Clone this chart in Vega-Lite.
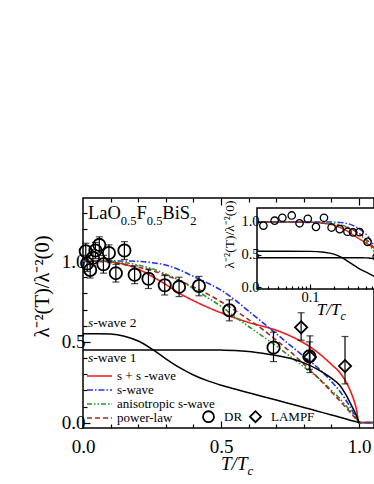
{
  "$schema": "https://vega.github.io/schema/vega-lite/v6.json",
  "autosize": {"type": "none"},
  "width": 291,
  "height": 230,
  "padding": {"left": 83, "top": 198, "right": 0, "bottom": 56},
  "background": "white",
  "config": {
    "font": "Liberation Serif",
    "view": {"stroke": "black", "strokeWidth": 1.5},
    "axis": {"labelFont": "Liberation Serif", "titleFont": "Liberation Serif", "tickColor": "black", "labelColor": "black", "titleColor": "black", "domainColor": "black", "tickWidth": 1.2, "grid": false, "titleFontWeight": "normal"},
    "legend": {"labelFont": "Liberation Serif", "labelColor": "black"},
    "text": {"font": "Liberation Serif", "color": "black"}
  },
  "datasets": {
    "curves": [
      {"model": "s + s -wave", "t": 0, "v": 1.0}, {"model": "s + s -wave", "t": 0.02, "v": 1.0}, {"model": "s + s -wave", "t": 0.05, "v": 1.0}, {"model": "s + s -wave", "t": 0.1, "v": 0.995}, {"model": "s + s -wave", "t": 0.15, "v": 0.98}, {"model": "s + s -wave", "t": 0.2, "v": 0.95}, {"model": "s + s -wave", "t": 0.25, "v": 0.905}, {"model": "s + s -wave", "t": 0.3, "v": 0.855}, {"model": "s + s -wave", "t": 0.35, "v": 0.8}, {"model": "s + s -wave", "t": 0.4, "v": 0.755}, {"model": "s + s -wave", "t": 0.45, "v": 0.715}, {"model": "s + s -wave", "t": 0.5, "v": 0.68}, {"model": "s + s -wave", "t": 0.55, "v": 0.648}, {"model": "s + s -wave", "t": 0.6, "v": 0.62}, {"model": "s + s -wave", "t": 0.65, "v": 0.597}, {"model": "s + s -wave", "t": 0.7, "v": 0.572}, {"model": "s + s -wave", "t": 0.75, "v": 0.537}, {"model": "s + s -wave", "t": 0.8, "v": 0.493}, {"model": "s + s -wave", "t": 0.85, "v": 0.435}, {"model": "s + s -wave", "t": 0.9, "v": 0.36}, {"model": "s + s -wave", "t": 0.93, "v": 0.31}, {"model": "s + s -wave", "t": 0.95, "v": 0.26}, {"model": "s + s -wave", "t": 0.97, "v": 0.19}, {"model": "s + s -wave", "t": 0.99, "v": 0.085}, {"model": "s + s -wave", "t": 1.0, "v": 0}, {"model": "s + s -wave", "t": 1.05, "v": 0},
      {"model": "s-wave", "t": 0, "v": 1.0}, {"model": "s-wave", "t": 0.02, "v": 1.0}, {"model": "s-wave", "t": 0.05, "v": 1.0}, {"model": "s-wave", "t": 0.1, "v": 1.0}, {"model": "s-wave", "t": 0.15, "v": 1.0}, {"model": "s-wave", "t": 0.2, "v": 0.998}, {"model": "s-wave", "t": 0.25, "v": 0.99}, {"model": "s-wave", "t": 0.3, "v": 0.975}, {"model": "s-wave", "t": 0.35, "v": 0.945}, {"model": "s-wave", "t": 0.4, "v": 0.905}, {"model": "s-wave", "t": 0.45, "v": 0.865}, {"model": "s-wave", "t": 0.5, "v": 0.82}, {"model": "s-wave", "t": 0.55, "v": 0.76}, {"model": "s-wave", "t": 0.6, "v": 0.69}, {"model": "s-wave", "t": 0.65, "v": 0.62}, {"model": "s-wave", "t": 0.7, "v": 0.55}, {"model": "s-wave", "t": 0.75, "v": 0.48}, {"model": "s-wave", "t": 0.8, "v": 0.41}, {"model": "s-wave", "t": 0.85, "v": 0.34}, {"model": "s-wave", "t": 0.9, "v": 0.255}, {"model": "s-wave", "t": 0.93, "v": 0.195}, {"model": "s-wave", "t": 0.95, "v": 0.145}, {"model": "s-wave", "t": 0.97, "v": 0.09}, {"model": "s-wave", "t": 0.99, "v": 0.03}, {"model": "s-wave", "t": 1.0, "v": 0}, {"model": "s-wave", "t": 1.05, "v": 0},
      {"model": "anisotropic s-wave", "t": 0, "v": 1.0}, {"model": "anisotropic s-wave", "t": 0.02, "v": 1.0}, {"model": "anisotropic s-wave", "t": 0.05, "v": 1.0}, {"model": "anisotropic s-wave", "t": 0.1, "v": 0.998}, {"model": "anisotropic s-wave", "t": 0.15, "v": 0.99}, {"model": "anisotropic s-wave", "t": 0.2, "v": 0.975}, {"model": "anisotropic s-wave", "t": 0.25, "v": 0.952}, {"model": "anisotropic s-wave", "t": 0.3, "v": 0.92}, {"model": "anisotropic s-wave", "t": 0.35, "v": 0.88}, {"model": "anisotropic s-wave", "t": 0.4, "v": 0.83}, {"model": "anisotropic s-wave", "t": 0.45, "v": 0.775}, {"model": "anisotropic s-wave", "t": 0.5, "v": 0.72}, {"model": "anisotropic s-wave", "t": 0.55, "v": 0.655}, {"model": "anisotropic s-wave", "t": 0.6, "v": 0.595}, {"model": "anisotropic s-wave", "t": 0.65, "v": 0.535}, {"model": "anisotropic s-wave", "t": 0.7, "v": 0.475}, {"model": "anisotropic s-wave", "t": 0.75, "v": 0.41}, {"model": "anisotropic s-wave", "t": 0.8, "v": 0.345}, {"model": "anisotropic s-wave", "t": 0.85, "v": 0.28}, {"model": "anisotropic s-wave", "t": 0.9, "v": 0.2}, {"model": "anisotropic s-wave", "t": 0.93, "v": 0.15}, {"model": "anisotropic s-wave", "t": 0.95, "v": 0.11}, {"model": "anisotropic s-wave", "t": 0.97, "v": 0.07}, {"model": "anisotropic s-wave", "t": 0.99, "v": 0.025}, {"model": "anisotropic s-wave", "t": 1.0, "v": 0}, {"model": "anisotropic s-wave", "t": 1.05, "v": 0},
      {"model": "power-law", "t": 0, "v": 1.0}, {"model": "power-law", "t": 0.02, "v": 1.0}, {"model": "power-law", "t": 0.05, "v": 0.998}, {"model": "power-law", "t": 0.1, "v": 0.99}, {"model": "power-law", "t": 0.15, "v": 0.978}, {"model": "power-law", "t": 0.2, "v": 0.962}, {"model": "power-law", "t": 0.25, "v": 0.94}, {"model": "power-law", "t": 0.3, "v": 0.912}, {"model": "power-law", "t": 0.35, "v": 0.878}, {"model": "power-law", "t": 0.4, "v": 0.84}, {"model": "power-law", "t": 0.45, "v": 0.797}, {"model": "power-law", "t": 0.5, "v": 0.748}, {"model": "power-law", "t": 0.55, "v": 0.695}, {"model": "power-law", "t": 0.6, "v": 0.638}, {"model": "power-law", "t": 0.65, "v": 0.578}, {"model": "power-law", "t": 0.7, "v": 0.51}, {"model": "power-law", "t": 0.75, "v": 0.44}, {"model": "power-law", "t": 0.8, "v": 0.362}, {"model": "power-law", "t": 0.85, "v": 0.28}, {"model": "power-law", "t": 0.9, "v": 0.19}, {"model": "power-law", "t": 0.93, "v": 0.135}, {"model": "power-law", "t": 0.95, "v": 0.098}, {"model": "power-law", "t": 0.97, "v": 0.06}, {"model": "power-law", "t": 0.99, "v": 0.02}, {"model": "power-law", "t": 1.0, "v": 0}, {"model": "power-law", "t": 1.05, "v": 0},
      {"model": "s-wave 1", "t": 0, "v": 0.45}, {"model": "s-wave 1", "t": 0.02, "v": 0.45}, {"model": "s-wave 1", "t": 0.05, "v": 0.45}, {"model": "s-wave 1", "t": 0.1, "v": 0.45}, {"model": "s-wave 1", "t": 0.15, "v": 0.45}, {"model": "s-wave 1", "t": 0.2, "v": 0.45}, {"model": "s-wave 1", "t": 0.25, "v": 0.45}, {"model": "s-wave 1", "t": 0.3, "v": 0.45}, {"model": "s-wave 1", "t": 0.35, "v": 0.45}, {"model": "s-wave 1", "t": 0.4, "v": 0.45}, {"model": "s-wave 1", "t": 0.45, "v": 0.45}, {"model": "s-wave 1", "t": 0.5, "v": 0.449}, {"model": "s-wave 1", "t": 0.55, "v": 0.447}, {"model": "s-wave 1", "t": 0.6, "v": 0.441}, {"model": "s-wave 1", "t": 0.65, "v": 0.43}, {"model": "s-wave 1", "t": 0.7, "v": 0.416}, {"model": "s-wave 1", "t": 0.75, "v": 0.398}, {"model": "s-wave 1", "t": 0.8, "v": 0.37}, {"model": "s-wave 1", "t": 0.85, "v": 0.33}, {"model": "s-wave 1", "t": 0.9, "v": 0.275}, {"model": "s-wave 1", "t": 0.93, "v": 0.232}, {"model": "s-wave 1", "t": 0.95, "v": 0.18}, {"model": "s-wave 1", "t": 0.97, "v": 0.115}, {"model": "s-wave 1", "t": 0.99, "v": 0.045}, {"model": "s-wave 1", "t": 1.0, "v": 0},
      {"model": "s-wave 2", "t": 0, "v": 0.55}, {"model": "s-wave 2", "t": 0.02, "v": 0.55}, {"model": "s-wave 2", "t": 0.05, "v": 0.55}, {"model": "s-wave 2", "t": 0.1, "v": 0.548}, {"model": "s-wave 2", "t": 0.15, "v": 0.535}, {"model": "s-wave 2", "t": 0.2, "v": 0.505}, {"model": "s-wave 2", "t": 0.25, "v": 0.455}, {"model": "s-wave 2", "t": 0.3, "v": 0.395}, {"model": "s-wave 2", "t": 0.35, "v": 0.34}, {"model": "s-wave 2", "t": 0.4, "v": 0.295}, {"model": "s-wave 2", "t": 0.45, "v": 0.26}, {"model": "s-wave 2", "t": 0.5, "v": 0.232}, {"model": "s-wave 2", "t": 0.55, "v": 0.208}, {"model": "s-wave 2", "t": 0.6, "v": 0.185}, {"model": "s-wave 2", "t": 0.65, "v": 0.162}, {"model": "s-wave 2", "t": 0.7, "v": 0.14}, {"model": "s-wave 2", "t": 0.75, "v": 0.117}, {"model": "s-wave 2", "t": 0.8, "v": 0.094}, {"model": "s-wave 2", "t": 0.85, "v": 0.071}, {"model": "s-wave 2", "t": 0.9, "v": 0.048}, {"model": "s-wave 2", "t": 0.93, "v": 0.034}, {"model": "s-wave 2", "t": 0.95, "v": 0.024}, {"model": "s-wave 2", "t": 0.97, "v": 0.014}, {"model": "s-wave 2", "t": 0.99, "v": 0.005}, {"model": "s-wave 2", "t": 1.0, "v": 0}
    ],
    "points": [
      {"source": "DR", "t": 0.010, "v": 1.06, "lo": 1.01, "hi": 1.11},
      {"source": "DR", "t": 0.015, "v": 0.985, "lo": 0.935, "hi": 1.035},
      {"source": "DR", "t": 0.026, "v": 0.945, "lo": 0.895, "hi": 0.995},
      {"source": "DR", "t": 0.036, "v": 1.02, "lo": 0.97, "hi": 1.07},
      {"source": "DR", "t": 0.045, "v": 1.065, "lo": 1.015, "hi": 1.115},
      {"source": "DR", "t": 0.059, "v": 1.1, "lo": 1.05, "hi": 1.15},
      {"source": "DR", "t": 0.074, "v": 0.98, "lo": 0.925, "hi": 1.035},
      {"source": "DR", "t": 0.094, "v": 1.05, "lo": 1.0, "hi": 1.1},
      {"source": "DR", "t": 0.119, "v": 0.925, "lo": 0.87, "hi": 0.98},
      {"source": "DR", "t": 0.15, "v": 1.065, "lo": 1.01, "hi": 1.12},
      {"source": "DR", "t": 0.187, "v": 0.915, "lo": 0.86, "hi": 0.97},
      {"source": "DR", "t": 0.237, "v": 0.89, "lo": 0.83, "hi": 0.95},
      {"source": "DR", "t": 0.296, "v": 0.85, "lo": 0.79, "hi": 0.91},
      {"source": "DR", "t": 0.348, "v": 0.84, "lo": 0.78, "hi": 0.9},
      {"source": "DR", "t": 0.42, "v": 0.845, "lo": 0.785, "hi": 0.905},
      {"source": "DR", "t": 0.53, "v": 0.695, "lo": 0.63, "hi": 0.76},
      {"source": "DR", "t": 0.69, "v": 0.465, "lo": 0.378, "hi": 0.56},
      {"source": "DR", "t": 0.82, "v": 0.41, "lo": 0.33, "hi": 0.5},
      {"source": "LAMPF", "t": 0.79, "v": 0.59, "lo": 0.51, "hi": 0.68},
      {"source": "LAMPF", "t": 0.822, "v": 0.405, "lo": 0.31, "hi": 0.537},
      {"source": "LAMPF", "t": 0.949, "v": 0.35, "lo": 0.24, "hi": 0.533}
    ]
  },
  "layer": [
    {
      "data": {"name": "curves"},
      "transform": [{"filter": "datum.model != 's-wave 1' && datum.model != 's-wave 2'"}],
      "mark": {"type": "line", "strokeWidth": 1.6, "interpolate": "monotone", "clip": true},
      "encoding": {
        "x": {"field": "t", "type": "quantitative", "scale": {"domain": [0, 1.054], "nice": false, "zero": false},
          "axis": {"orient": "bottom", "values": [0, 0.1, 0.2, 0.3, 0.4, 0.5, 0.6, 0.7, 0.8, 0.9, 1.0], "labelExpr": "datum.value == 0 || datum.value == 0.5 || datum.value == 1 ? format(datum.value, '.1f') : ''", "tickSize": {"condition": {"test": "datum.value == 0 || datum.value == 0.5 || datum.value == 1", "value": -7}, "value": -4}, "labelFontSize": 19, "labelPadding": 16, "labelOverlap": false, "labelFlush": false, "title": null, "domain": false}},
        "y": {"field": "v", "type": "quantitative", "scale": {"domain": [-0.033, 1.39], "nice": false, "zero": false},
          "axis": {"orient": "left", "values": [0, 0.1, 0.2, 0.3, 0.4, 0.5, 0.6, 0.7, 0.8, 0.9, 1.0, 1.1, 1.2, 1.3], "labelExpr": "datum.value == 0 || datum.value == 0.5 || datum.value == 1 ? format(datum.value, '.1f') : ''", "tickSize": {"condition": {"test": "datum.value == 0 || datum.value == 0.5 || datum.value == 1", "value": -7}, "value": -4}, "labelFontSize": 19, "labelPadding": 5, "labelOverlap": false, "labelFlush": false, "domain": false, "title": "λ⁻²(T)/λ⁻²(0)", "titleFontSize": 20.5, "titleX": -41, "titleY": 88, "titleAlign": "center", "titleBaseline": "middle", "titleAngle": 270}},
        "color": {"field": "model", "type": "nominal", "scale": {"domain": ["s + s -wave", "s-wave", "anisotropic s-wave", "power-law"], "range": ["#ee1c1c", "#2233ee", "#229922", "#a02828"]},
          "legend": {"title": null, "orient": "none", "legendX": 3, "legendY": 171, "symbolType": "stroke", "symbolSize": 625, "symbolStrokeWidth": 1.6, "clipHeight": 14, "rowPadding": 0, "labelFontSize": 13, "labelOffset": 4, "padding": 0}},
        "strokeDash": {"field": "model", "type": "nominal", "scale": {"domain": ["s + s -wave", "s-wave", "anisotropic s-wave", "power-law"], "range": [[1, 0], [6, 2, 1.5, 2], [5, 2, 1.5, 2, 1.5, 2], [5, 3]]},
          "legend": {"title": null, "orient": "none", "legendX": 3, "legendY": 171, "symbolType": "stroke", "symbolSize": 625, "symbolStrokeWidth": 1.6, "clipHeight": 14, "rowPadding": 0, "labelFontSize": 13, "labelOffset": 4, "padding": 0}}
      }
    },
    {
      "data": {"name": "curves"},
      "transform": [{"filter": "datum.model == 's-wave 1' || datum.model == 's-wave 2'"}],
      "mark": {"type": "line", "color": "black", "strokeWidth": 1.5, "interpolate": "monotone", "clip": true},
      "encoding": {
        "x": {"field": "t", "type": "quantitative", "scale": {"domain": [0, 1.054], "nice": false, "zero": false}, "axis": null},
        "y": {"field": "v", "type": "quantitative", "scale": {"domain": [-0.033, 1.39], "nice": false, "zero": false}, "axis": null},
        "detail": {"field": "model"}
      }
    },
    {
      "data": {"name": "points"},
      "mark": {"type": "errorbar", "ticks": {"size": 7, "color": "black"}, "color": "black", "thickness": 1.2},
      "encoding": {
        "x": {"field": "t", "type": "quantitative", "scale": {"domain": [0, 1.054], "nice": false, "zero": false}, "axis": null},
        "y": {"field": "lo", "type": "quantitative", "scale": {"domain": [-0.033, 1.39], "nice": false, "zero": false}, "axis": null},
        "y2": {"field": "hi"}
      }
    },
    {
      "data": {"name": "points"},
      "mark": {"type": "point", "filled": false, "color": "black", "strokeWidth": 1.8, "size": 150, "opacity": 1},
      "encoding": {
        "x": {"field": "t", "type": "quantitative", "scale": {"domain": [0, 1.054], "nice": false, "zero": false},
          "axis": {"orient": "top", "values": [0.1, 0.2, 0.3, 0.4, 0.5, 0.6, 0.7, 0.8, 0.9, 1.0], "labels": false, "tickSize": {"condition": {"test": "datum.value == 0.5 || datum.value == 1", "value": -7}, "value": -4}, "domain": false, "title": null}},
        "y": {"field": "v", "type": "quantitative", "scale": {"domain": [-0.033, 1.39], "nice": false, "zero": false}, "axis": null},
        "shape": {"field": "source", "type": "nominal", "scale": {"domain": ["DR", "LAMPF"], "range": ["circle", "diamond"]},
          "legend": {"title": null, "orient": "none", "legendX": 119, "legendY": 212, "direction": "horizontal", "labelFontSize": 13, "symbolSize": 120, "symbolStrokeWidth": 1.8, "symbolStrokeColor": "black", "symbolFillColor": "transparent", "columnPadding": 3, "labelOffset": 9, "padding": 0}}
      }
    },
    {"data": {"values": [{}]}, "mark": {"type": "text", "text": "LaO", "align": "left", "baseline": "alphabetic", "fontSize": 18.5},
      "encoding": {"x": {"datum": 0.018, "type": "quantitative", "scale": {"domain": [0, 1.054], "nice": false, "zero": false}, "axis": null}, "y": {"datum": 1.258, "type": "quantitative", "scale": {"domain": [-0.033, 1.39], "nice": false, "zero": false}, "axis": null}}},
    {"data": {"values": [{}]}, "mark": {"type": "text", "text": "0.5", "align": "left", "baseline": "alphabetic", "fontSize": 12.5, "dx": 32.9, "dy": 6},
      "encoding": {"x": {"datum": 0.018, "type": "quantitative", "scale": {"domain": [0, 1.054], "nice": false, "zero": false}, "axis": null}, "y": {"datum": 1.258, "type": "quantitative", "scale": {"domain": [-0.033, 1.39], "nice": false, "zero": false}, "axis": null}}},
    {"data": {"values": [{}]}, "mark": {"type": "text", "text": "F", "align": "left", "baseline": "alphabetic", "fontSize": 18.5, "dx": 48.5},
      "encoding": {"x": {"datum": 0.018, "type": "quantitative", "scale": {"domain": [0, 1.054], "nice": false, "zero": false}, "axis": null}, "y": {"datum": 1.258, "type": "quantitative", "scale": {"domain": [-0.033, 1.39], "nice": false, "zero": false}, "axis": null}}},
    {"data": {"values": [{}]}, "mark": {"type": "text", "text": "0.5", "align": "left", "baseline": "alphabetic", "fontSize": 12.5, "dx": 58.8, "dy": 6},
      "encoding": {"x": {"datum": 0.018, "type": "quantitative", "scale": {"domain": [0, 1.054], "nice": false, "zero": false}, "axis": null}, "y": {"datum": 1.258, "type": "quantitative", "scale": {"domain": [-0.033, 1.39], "nice": false, "zero": false}, "axis": null}}},
    {"data": {"values": [{}]}, "mark": {"type": "text", "text": "BiS", "align": "left", "baseline": "alphabetic", "fontSize": 18.5, "dx": 74.4},
      "encoding": {"x": {"datum": 0.018, "type": "quantitative", "scale": {"domain": [0, 1.054], "nice": false, "zero": false}, "axis": null}, "y": {"datum": 1.258, "type": "quantitative", "scale": {"domain": [-0.033, 1.39], "nice": false, "zero": false}, "axis": null}}},
    {"data": {"values": [{}]}, "mark": {"type": "text", "text": "2", "align": "left", "baseline": "alphabetic", "fontSize": 12.5, "dx": 102.2, "dy": 6},
      "encoding": {"x": {"datum": 0.018, "type": "quantitative", "scale": {"domain": [0, 1.054], "nice": false, "zero": false}, "axis": null}, "y": {"datum": 1.258, "type": "quantitative", "scale": {"domain": [-0.033, 1.39], "nice": false, "zero": false}, "axis": null}}},
    {"data": {"values": [{}]}, "mark": {"type": "text", "text": "s", "align": "left", "baseline": "alphabetic", "fontSize": 13.5, "fontStyle": "italic"},
      "encoding": {"x": {"datum": 0.018, "type": "quantitative", "scale": {"domain": [0, 1.054], "nice": false, "zero": false}, "axis": null}, "y": {"datum": 0.592, "type": "quantitative", "scale": {"domain": [-0.033, 1.39], "nice": false, "zero": false}, "axis": null}}},
    {"data": {"values": [{}]}, "mark": {"type": "text", "text": "-wave 2", "align": "left", "baseline": "alphabetic", "fontSize": 13.5, "dx": 5.4},
      "encoding": {"x": {"datum": 0.018, "type": "quantitative", "scale": {"domain": [0, 1.054], "nice": false, "zero": false}, "axis": null}, "y": {"datum": 0.592, "type": "quantitative", "scale": {"domain": [-0.033, 1.39], "nice": false, "zero": false}, "axis": null}}},
    {"data": {"values": [{}]}, "mark": {"type": "text", "text": "s", "align": "left", "baseline": "alphabetic", "fontSize": 13.5, "fontStyle": "italic"},
      "encoding": {"x": {"datum": 0.018, "type": "quantitative", "scale": {"domain": [0, 1.054], "nice": false, "zero": false}, "axis": null}, "y": {"datum": 0.377, "type": "quantitative", "scale": {"domain": [-0.033, 1.39], "nice": false, "zero": false}, "axis": null}}},
    {"data": {"values": [{}]}, "mark": {"type": "text", "text": "-wave 1", "align": "left", "baseline": "alphabetic", "fontSize": 13.5, "dx": 5.4},
      "encoding": {"x": {"datum": 0.018, "type": "quantitative", "scale": {"domain": [0, 1.054], "nice": false, "zero": false}, "axis": null}, "y": {"datum": 0.377, "type": "quantitative", "scale": {"domain": [-0.033, 1.39], "nice": false, "zero": false}, "axis": null}}},
    {"data": {"values": [{}]}, "mark": {"type": "text", "text": "T/T", "align": "left", "baseline": "alphabetic", "fontSize": 19, "fontStyle": "italic"},
      "encoding": {"x": {"datum": 0.5, "type": "quantitative", "scale": {"domain": [0, 1.054], "nice": false, "zero": false}, "axis": null}, "y": {"datum": -0.29, "type": "quantitative", "scale": {"domain": [-0.033, 1.39], "nice": false, "zero": false}, "axis": null}}},
    {"data": {"values": [{}]}, "mark": {"type": "text", "text": "c", "align": "left", "baseline": "alphabetic", "fontSize": 13, "fontStyle": "italic", "dx": 26.5, "dy": 5},
      "encoding": {"x": {"datum": 0.5, "type": "quantitative", "scale": {"domain": [0, 1.054], "nice": false, "zero": false}, "axis": null}, "y": {"datum": -0.29, "type": "quantitative", "scale": {"domain": [-0.033, 1.39], "nice": false, "zero": false}, "axis": null}}},
    {"data": {"values": [{}]}, "mark": {"type": "text", "text": "T/T", "align": "left", "baseline": "alphabetic", "fontSize": 17, "fontStyle": "italic"},
      "encoding": {"x": {"datum": 0.847, "type": "quantitative", "scale": {"domain": [0, 1.054], "nice": false, "zero": false}, "axis": null}, "y": {"datum": 0.666, "type": "quantitative", "scale": {"domain": [-0.033, 1.39], "nice": false, "zero": false}, "axis": null}}},
    {"data": {"values": [{}]}, "mark": {"type": "text", "text": "c", "align": "left", "baseline": "alphabetic", "fontSize": 12, "fontStyle": "italic", "dx": 23.6, "dy": 5},
      "encoding": {"x": {"datum": 0.847, "type": "quantitative", "scale": {"domain": [0, 1.054], "nice": false, "zero": false}, "axis": null}, "y": {"datum": 0.666, "type": "quantitative", "scale": {"domain": [-0.033, 1.39], "nice": false, "zero": false}, "axis": null}}},
    {
      "data": {"values": [{}]},
      "mark": {"type": "rect", "fill": "white", "stroke": "black", "strokeWidth": 1.5, "clip": true},
      "encoding": {
        "x": {"datum": 0.0216, "type": "quantitative", "scale": {"type": "log", "domain": [0.0216, 1.1], "range": [174, 309.8], "clamp": true, "nice": false}, "axis": null},
        "x2": {"datum": 2},
        "y": {"datum": -0.03, "type": "quantitative", "scale": {"domain": [-0.03, 1.215], "range": [91, 10], "nice": false, "zero": false}, "axis": null},
        "y2": {"datum": 1.215}
      }
    },
    {
      "data": {"name": "curves"},
      "transform": [{"filter": "datum.t > 0 && datum.model != 's-wave 1' && datum.model != 's-wave 2'"}],
      "mark": {"type": "line", "strokeWidth": 1.4, "interpolate": "monotone", "clip": true},
      "encoding": {
        "x": {"field": "t", "type": "quantitative", "scale": {"type": "log", "domain": [0.0216, 1.1], "range": [174, 309.8], "clamp": true, "nice": false},
          "axis": {"orient": "bottom", "offset": -139, "values": [0.03, 0.04, 0.05, 0.06, 0.07, 0.08, 0.09, 0.1, 0.2, 0.3, 0.4, 0.5, 0.6, 0.7, 0.8, 0.9, 1], "labelExpr": "datum.value == 0.1 ? '0.1' : ''", "tickSize": {"condition": {"test": "datum.value == 0.1 || datum.value == 1", "value": -5}, "value": -3}, "labelFontSize": 14.5, "labelPadding": 6, "labelOverlap": false, "labelFlush": false, "labelBound": false, "title": null, "domain": false, "zindex": 2}},
        "y": {"field": "v", "type": "quantitative", "scale": {"domain": [-0.03, 1.215], "range": [91, 10], "nice": false, "zero": false},
          "axis": {"orient": "left", "offset": -174, "values": [0, 0.5, 1], "format": ".1f", "tickSize": -4, "labelFontSize": 14.5, "labelPadding": 2, "labelOverlap": false, "labelFlush": false, "domain": false, "zindex": 2, "title": "λ⁻²(T)/λ⁻²(0)", "titleFontSize": 13.5, "titlePadding": 4, "titleY": 36, "titleAngle": 270}},
        "color": {"field": "model", "type": "nominal", "scale": {"domain": ["s + s -wave", "s-wave", "anisotropic s-wave", "power-law"], "range": ["#ee1c1c", "#2233ee", "#229922", "#a02828"]}, "legend": null},
        "strokeDash": {"field": "model", "type": "nominal", "scale": {"domain": ["s + s -wave", "s-wave", "anisotropic s-wave", "power-law"], "range": [[1, 0], [6, 2, 1.5, 2], [5, 2, 1.5, 2, 1.5, 2], [5, 3]]}, "legend": null}
      }
    },
    {
      "data": {"name": "curves"},
      "transform": [{"filter": "datum.t > 0 && (datum.model == 's-wave 1' || datum.model == 's-wave 2')"}],
      "mark": {"type": "line", "color": "black", "strokeWidth": 1.4, "interpolate": "monotone", "clip": true},
      "encoding": {
        "x": {"field": "t", "type": "quantitative", "scale": {"type": "log", "domain": [0.0216, 1.1], "range": [174, 309.8], "clamp": true, "nice": false}, "axis": null},
        "y": {"field": "v", "type": "quantitative", "scale": {"domain": [-0.03, 1.215], "range": [91, 10], "nice": false, "zero": false}, "axis": null},
        "detail": {"field": "model"}
      }
    },
    {
      "data": {"name": "points"},
      "transform": [{"filter": "datum.source == 'DR' && datum.t > 0.02"}],
      "mark": {"type": "point", "shape": "circle", "filled": false, "color": "black", "strokeWidth": 1.3, "size": 55, "opacity": 1, "clip": true},
      "encoding": {
        "x": {"field": "t", "type": "quantitative", "scale": {"type": "log", "domain": [0.0216, 1.1], "range": [174, 309.8], "clamp": true, "nice": false}, "axis": null},
        "y": {"field": "v", "type": "quantitative", "scale": {"domain": [-0.03, 1.215], "range": [91, 10], "nice": false, "zero": false}, "axis": null}
      }
    }
  ],
  "resolve": {"scale": {"x": "independent", "y": "independent"}}
}
